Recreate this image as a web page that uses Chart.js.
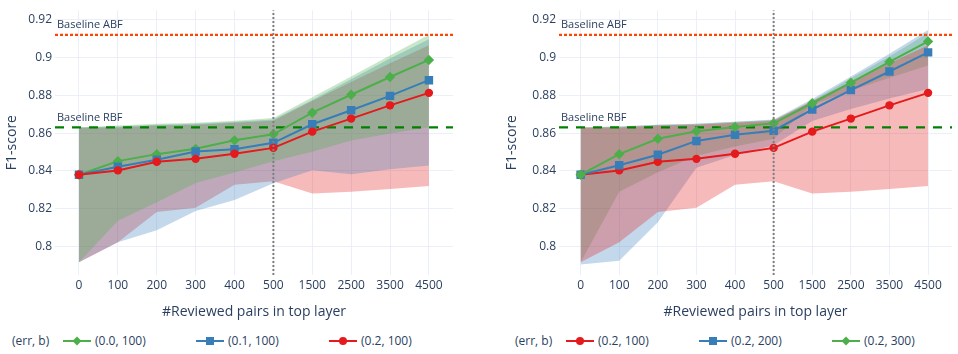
<!DOCTYPE html>
<html><head><meta charset="utf-8">
<script src="https://cdn.jsdelivr.net/npm/chart.js@4.4.1/dist/chart.umd.min.js"></script>
<style>
html,body{margin:0;padding:0;background:#fff;width:958px;height:354px;overflow:hidden;font-family:"Open Sans",sans-serif;}
canvas{position:absolute;top:0;}
#c1{left:0;}
#c2{left:480px;}
.lg{position:absolute;font-size:12px;color:#2a3f5f;white-space:nowrap;line-height:16px;}
.lg svg{position:absolute;top:2px;}
</style></head><body>
<canvas id="c1" width="479" height="325" style="width:479px;height:325px"></canvas>
<canvas id="c2" width="478" height="325" style="width:478px;height:325px"></canvas>
<div id="legends"></div>
<script>
// ---------- data ----------
const categories = ['0','100','200','300','400','500','1500','2500','3500','4500'];
const yTickValues = [0.8, 0.82, 0.84, 0.86, 0.88, 0.9, 0.92];
const baselineABF = 0.912;
const baselineRBF = 0.863;
const splitCategoryIndex = 5;

// left panel: err varies, b = 100
const meanErr00B100 = [0.838, 0.8452, 0.8489, 0.8517, 0.8562, 0.8594, 0.8708, 0.8803, 0.8897, 0.8987];
const upperErr00B100 = [0.863, 0.864, 0.865, 0.8655, 0.8665, 0.868, 0.879, 0.890, 0.901, 0.912];
const lowerErr00B100 = [0.7917, 0.8137, 0.8234, 0.8336, 0.8392, 0.8451, 0.8502, 0.8561, 0.8598, 0.8631];

const meanErr01B100 = [0.838, 0.8422, 0.8459, 0.8503, 0.8515, 0.8549, 0.8647, 0.8721, 0.8797, 0.888];
const upperErr01B100 = [0.863, 0.8635, 0.8645, 0.865, 0.866, 0.8672, 0.8775, 0.8885, 0.8995, 0.9097];
const lowerErr01B100 = [0.7917, 0.8023, 0.8086, 0.8188, 0.8247, 0.8335, 0.8404, 0.8383, 0.8409, 0.8429];

const meanErr02B100 = [0.838, 0.8403, 0.8449, 0.8464, 0.8491, 0.8522, 0.8608, 0.8677, 0.8747, 0.8813];
const upperErr02B100 = [0.863, 0.863, 0.864, 0.8645, 0.8655, 0.8665, 0.877, 0.887, 0.897, 0.9065];
const lowerErr02B100 = [0.7917, 0.8023, 0.8183, 0.8205, 0.8327, 0.8345, 0.8281, 0.829, 0.8305, 0.832];

// right panel: err = 0.2, b varies
const meanErr02B200 = [0.838, 0.843, 0.8486, 0.8559, 0.8591, 0.8613, 0.8725, 0.8828, 0.8926, 0.9027];
const upperErr02B200 = [0.863, 0.8635, 0.8645, 0.865, 0.866, 0.8672, 0.878, 0.890, 0.902, 0.9145];
const lowerErr02B200 = [0.7905, 0.7925, 0.8129, 0.8417, 0.8485, 0.8536, 0.8664, 0.8727, 0.8783, 0.8834];

const meanErr02B300 = [0.838, 0.8489, 0.857, 0.861, 0.8633, 0.8652, 0.8758, 0.8867, 0.8977, 0.9085];
const upperErr02B300 = [0.863, 0.8635, 0.8645, 0.865, 0.866, 0.867, 0.877, 0.889, 0.9005, 0.913];
const lowerErr02B300 = [0.7917, 0.829, 0.8393, 0.848, 0.853, 0.857, 0.8749, 0.8825, 0.8893, 0.8958];

const legendTitle = '(err, b)';
const leftSeries = [
  {label: '(0.0, 100)', mean: meanErr00B100, upper: upperErr00B100, lower: lowerErr00B100, color: [77,175,74], marker: 'rectRot'},
  {label: '(0.1, 100)', mean: meanErr01B100, upper: upperErr01B100, lower: lowerErr01B100, color: [55,126,184], marker: 'rect'},
  {label: '(0.2, 100)', mean: meanErr02B100, upper: upperErr02B100, lower: lowerErr02B100, color: [228,26,28], marker: 'circle'}
];
const rightSeries = [
  {label: '(0.2, 100)', mean: meanErr02B100, upper: upperErr02B100, lower: lowerErr02B100, color: [228,26,28], marker: 'circle'},
  {label: '(0.2, 200)', mean: meanErr02B200, upper: upperErr02B200, lower: lowerErr02B200, color: [55,126,184], marker: 'rect'},
  {label: '(0.2, 300)', mean: meanErr02B300, upper: upperErr02B300, lower: lowerErr02B300, color: [77,175,74], marker: 'rectRot'}
];

// ---------- chart ----------
const TXT = '#2a3f5f';
const GRID = '#EBF0F8';
const Y_MIN = 0.785, Y_MAX = 0.925;
Chart.defaults.font.family = '"Open Sans", sans-serif';
Chart.defaults.color = TXT;

const rgba = (c, a) => `rgba(${c[0]},${c[1]},${c[2]},${a})`;
const pts = arr => arr.map((v, i) => ({x: i, y: v}));
const markerRadius = {rectRot: 5.2, rect: 6, circle: 4.2};

const baselineText = {
  id: 'baselineText',
  afterDatasetsDraw(chart) {
    const {ctx, chartArea, scales} = chart;
    ctx.save();
    ctx.font = '11px "Open Sans", sans-serif';
    ctx.fillStyle = TXT;
    ctx.textBaseline = 'middle';
    ctx.textAlign = 'left';
    ctx.fillText('Baseline ABF', chartArea.left + 2, scales.y.getPixelForValue(baselineABF) - 9.5);
    ctx.fillText('Baseline RBF', chartArea.left + 2, scales.y.getPixelForValue(baselineRBF) - 10);
    ctx.restore();
  }
};

function makeChart(id, series, xMin, xMax, padLeft, yAxisWidth, padRight) {
  const datasets = [];
  series.forEach((s, k) => {
    const iu = datasets.length;
    datasets.push({data: pts(s.upper), borderWidth: 0, pointRadius: 0, fill: false, order: 20 + k, borderColor: 'rgba(0,0,0,0)'});
    datasets.push({data: pts(s.lower), borderWidth: 0, pointRadius: 0, fill: iu, backgroundColor: rgba(s.color, 0.3), order: 20 + k, borderColor: 'rgba(0,0,0,0)'});
  });
  datasets.push({data: [{x: xMin, y: baselineRBF}, {x: xMax, y: baselineRBF}], borderColor: 'green', borderWidth: 2.2, borderDash: [9, 8], pointRadius: 0, fill: false, order: 5});
  datasets.push({data: [{x: xMin, y: baselineABF}, {x: xMax, y: baselineABF}], borderColor: 'orangered', borderWidth: 2.2, borderDash: [3, 2], pointRadius: 0, fill: false, order: 5});
  series.forEach((s, k) => {
    datasets.push({label: s.label, data: pts(s.mean), borderColor: rgba(s.color, 1), backgroundColor: rgba(s.color, 1),
      pointBackgroundColor: rgba(s.color, 1), pointBorderColor: rgba(s.color, 1), pointBorderWidth: 0,
      pointStyle: s.marker, pointRadius: markerRadius[s.marker], borderWidth: 2, fill: false, tension: 0, order: 3 - k});
  });
  datasets.push({data: [{x: splitCategoryIndex, y: Y_MIN}, {x: splitCategoryIndex, y: Y_MAX}], borderColor: 'gray', borderWidth: 2, borderDash: [2, 2], pointRadius: 0, fill: false, order: -1});

  return new Chart(document.getElementById(id), {
    type: 'line',
    data: {datasets},
    options: {
      responsive: false, animation: false, devicePixelRatio: 1,
      layout: {padding: {left: padLeft, right: padRight, top: 0, bottom: 0}},
      plugins: {legend: {display: false}, tooltip: {enabled: false}},
      scales: {
        x: {
          type: 'linear', min: xMin, max: xMax,
          afterBuildTicks: sc => { sc.ticks = categories.map((c, i) => ({value: i})); },
          afterFit: sc => { sc.height = 50; },
          ticks: {callback: v => categories[v], autoSkip: false, maxRotation: 0, padding: 3, font: {size: 12}, color: TXT},
          grid: {color: GRID, lineWidth: 1, drawTicks: false},
          border: {display: false},
          title: {display: true, text: '#Reviewed pairs in top layer', font: {size: 14}, color: TXT, padding: {top: 0, bottom: 4.6}}
        },
        y: {
          type: 'linear', min: Y_MIN, max: Y_MAX,
          afterBuildTicks: sc => { sc.ticks = yTickValues.map(v => ({value: v})); },
          afterFit: sc => { sc.width = yAxisWidth; },
          ticks: {callback: v => String(+(+v).toFixed(2)), padding: 3, font: {size: 12}, color: TXT},
          grid: {color: GRID, lineWidth: 1, drawTicks: false},
          border: {display: false},
          title: {display: true, text: 'F1-score', font: {size: 14}, color: TXT, padding: {top: 4, bottom: 4}}
        }
      }
    },
    plugins: [baselineText]
  });
}

makeChart('c1', leftSeries, -0.617, 9.62, 0, 55, 26);
makeChart('c2', rightSeries, -0.56, 9.62, 20, 59, 3);

// ---------- legends (HTML, generated from series) ----------
function markerSvg(s) {
  const c = rgba(s.color, 1);
  let m;
  if (s.marker === 'circle') m = `<circle cx="14" cy="6" r="4" fill="${c}"/>`;
  else if (s.marker === 'rect') m = `<rect x="10" y="2" width="8" height="8" fill="${c}"/>`;
  else m = `<polygon points="14,1.5 18.5,6 14,10.5 9.5,6" fill="${c}"/>`;
  return `<svg width="28" height="12" viewBox="0 0 28 12"><line x1="0" y1="6" x2="28" y2="6" stroke="${c}" stroke-width="2"/>${m}</svg>`;
}
function buildLegend(series, titleX, firstX) {
  const host = document.getElementById('legends');
  const t = document.createElement('div');
  t.className = 'lg'; t.style.left = titleX + 'px'; t.style.top = '333px'; t.textContent = legendTitle;
  host.appendChild(t);
  series.forEach((s, i) => {
    const d = document.createElement('div');
    d.className = 'lg';
    d.style.left = (firstX + i * 133) + 'px';
    d.style.top = '333px';
    d.innerHTML = markerSvg(s) + `<span style="margin-left:32px">${s.label}</span>`;
    host.appendChild(d);
  });
}
buildLegend(leftSeries, 12, 63);
buildLegend(rightSeries, 515, 566);
</script>
</body></html>
